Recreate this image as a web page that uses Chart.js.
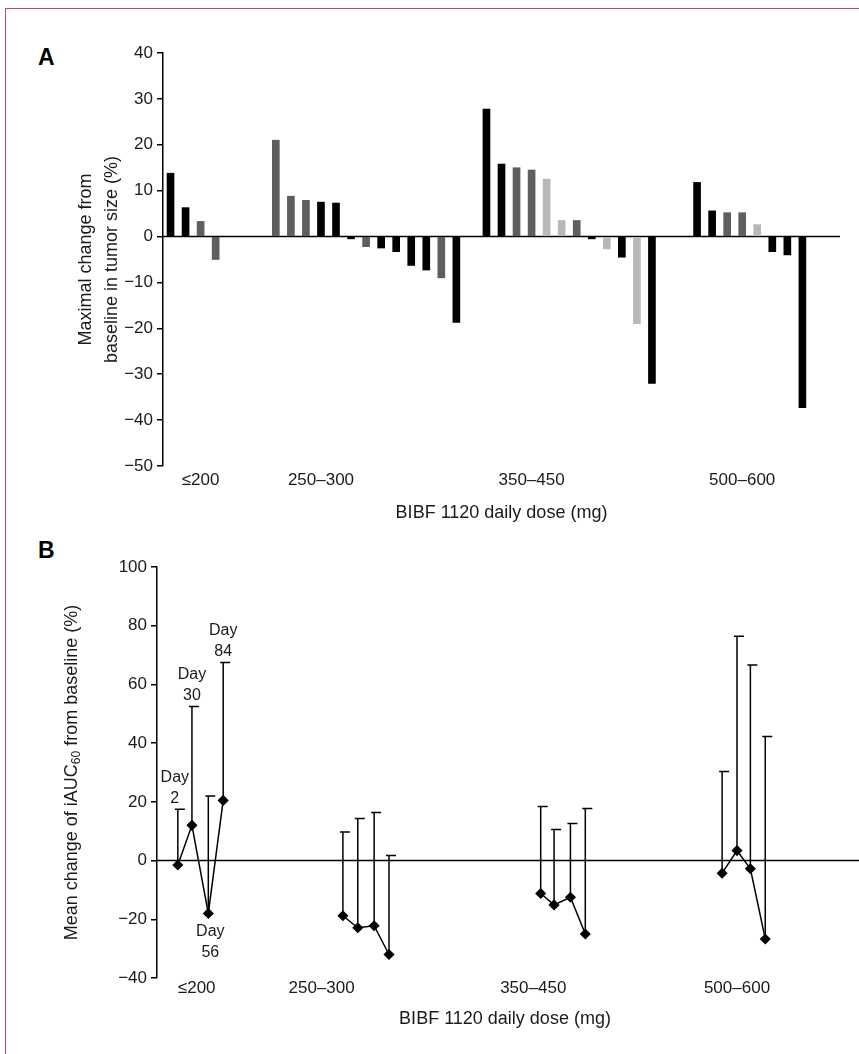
<!DOCTYPE html>
<html><head><meta charset="utf-8">
<script src="https://cdn.jsdelivr.net/npm/chart.js@4"></script>
<style>
html,body{margin:0;padding:0;background:#fff;width:859px;height:1054px;overflow:hidden;font-family:"Liberation Sans",Arial,sans-serif}
#frame{position:absolute;left:5px;top:8px;width:900px;height:1100px;border-left:1.5px solid #c2456f;border-top:1.5px solid #c2456f}
.lt{position:absolute;font-weight:bold;font-size:23px;color:#000}
#ca{position:absolute;left:0;top:0}
#cb{position:absolute;left:0;top:540px}
</style></head><body>
<div id="frame"></div>
<div class="lt" style="left:38px;top:44px">A</div>
<div class="lt" style="left:38px;top:537px">B</div>
<canvas id="ca" width="859" height="540"></canvas>
<canvas id="cb" width="859" height="514"></canvas>
<script>
// ---------- Panel A data ----------
const doseGroups = ["≤200","250–300","350–450","500–600"];
const groupLabelSlotsA = [2,10,24,38];
const tumorChange = [13.8,6.3,3.3,-5,null,null,null,
  21,8.8,7.9,7.5,7.3,-0.5,-2.2,-2.5,-3.3,-6.3,-7.3,-9,-18.7,null,
  27.8,15.8,15,14.5,12.5,3.5,3.5,-0.5,-2.7,-4.5,-19,-32,null,null,
  11.8,5.6,5.2,5.2,2.6,-3.3,-4,-37.3,null,null];
const barShade = ["k","k","d","d","","","",
  "d","d","d","k","k","k","d","k","k","k","k","d","k","",
  "k","k","d","d","l","l","d","k","l","k","l","k","","",
  "k","k","d","d","l","k","k","k","",""];
// ---------- Panel B data ----------
const dayNames = ["Day 2","Day 30","Day 56","Day 84"];
const slotsB = [[1.4,2.35,3.45,4.45],[12.5,13.5,14.6,15.6],[25.8,26.7,27.8,28.8],[38,39,39.9,40.9]];
const groupLabelSlotsB = [2.67,11.07,25.3,39];
const meanIAUC = [[-1.5,12,-18,20.5],[-18.8,-22.9,-22.2,-32],[-11.2,-15.1,-12.5,-25],[-4.3,3.4,-2.8,-26.7]];
const upperIAUC = [[17.5,52.5,22,67.5],[9.7,14.3,16.4,1.7],[18.4,10.6,12.6,17.7],[30.3,76.4,66.6,42.3]];
const yTicksA = [40,30,20,10,0,-10,-20,-30,-40,-50];
const yTicksB = [100,80,60,40,20,0,-20,-40];

const shadeCol = {k:"#000000",d:"#5e5e5e",l:"#b8b8b8","":"#000"};
const FONT = "'Liberation Sans', Arial, sans-serif";
Chart.defaults.font.family = FONT;
Chart.defaults.color = "#1a1a1a";

const minus = v => (v<0 ? "\u2212"+Math.abs(v) : String(v));
const zeroLine = {id:"zeroLine",beforeDatasetsDraw(c,a,o){
  const y=c.scales.y.getPixelForValue(0),ctx=c.ctx;
  ctx.save();ctx.strokeStyle="#000";ctx.lineWidth=1.5;ctx.beginPath();
  ctx.moveTo(c.chartArea.left,y);ctx.lineTo(o.right||c.chartArea.right,y);ctx.stroke();ctx.restore();}};
const yTitleA = {id:"yTitleA",afterDraw(c){
  const ctx=c.ctx,cy=(c.chartArea.top+c.chartArea.bottom)/2;
  ctx.save();ctx.translate(0,cy);ctx.rotate(-Math.PI/2);ctx.fillStyle="#1a1a1a";
  ctx.font="18px "+FONT;ctx.textAlign="center";ctx.textBaseline="middle";
  ctx.fillText("Maximal change from",0,86);ctx.fillText("baseline in tumor size (%)",0,112);ctx.restore();}};

const labelsA = tumorChange.map((_,i)=>i);
new Chart(document.getElementById("ca"),{
  type:"bar",
  data:{labels:labelsA,datasets:[{data:tumorChange,
    backgroundColor:barShade.map(s=>shadeCol[s]),barThickness:7}]},
  options:{responsive:false,animation:false,
    layout:{padding:{top:53,right:19,bottom:12,left:0}},
    plugins:{legend:{display:false},tooltip:{enabled:false},zeroLine:{}},
    scales:{
      x:{grid:{display:false},border:{display:false},afterFit:s=>{s.height=62;},
        ticks:{autoSkip:false,maxRotation:0,font:{size:17},padding:-4,
          callback:(v,i)=>{const k=groupLabelSlotsA.indexOf(i);return k>=0?doseGroups[k]:"";}},
        title:{display:true,text:"BIBF 1120 daily dose (mg)",font:{size:18},padding:{top:8,bottom:4}}},
      y:{min:-50,max:40,afterBuildTicks:s=>{s.ticks=yTicksA.map(v=>({value:v}));},
        afterFit:s=>{s.width=163;},
        grid:{drawOnChartArea:false,tickLength:6,color:"#000",lineWidth:1.5},
        border:{color:"#000",width:1.5},
        ticks:{font:{size:17},padding:4,callback:v=>minus(v)}}
    }},
  plugins:[zeroLine,yTitleA]
});

// ---------- Panel B ----------
const errBars = {id:"errBars",afterDatasetsDraw(c){
  const ctx=c.ctx,xs=c.scales.x,ys=c.scales.y;ctx.save();ctx.strokeStyle="#000";ctx.lineWidth=1.5;
  slotsB.forEach((g,gi)=>g.forEach((sx,j)=>{
    const x=xs.getPixelForValue(sx),y0=ys.getPixelForValue(meanIAUC[gi][j]),y1=ys.getPixelForValue(upperIAUC[gi][j]);
    ctx.beginPath();ctx.moveTo(x,y0);ctx.lineTo(x,y1);ctx.moveTo(x-3,y1);ctx.lineTo(x+7,y1);ctx.stroke();}));
  ctx.fillStyle="#1a1a1a";ctx.font="16px "+FONT;ctx.textAlign="center";
  slotsB[0].forEach((sx,j)=>{
    const parts=dayNames[j].split(" ");let x=xs.getPixelForValue(sx);
    if(j===2){const y=ys.getPixelForValue(meanIAUC[0][j]);x+=2;
      ctx.textBaseline="top";ctx.fillText(parts[0],x,y+10);ctx.fillText(parts[1],x,y+31);}
    else{const y=ys.getPixelForValue(upperIAUC[0][j]);x-=(j===0?3:0);
      ctx.textBaseline="bottom";ctx.fillText(parts[0],x,y-24);ctx.fillText(parts[1],x,y-3);}
  });
  const cx=72,cy=(c.chartArea.top+c.chartArea.bottom)/2;
  ctx.translate(cx,cy);ctx.rotate(-Math.PI/2);ctx.textBaseline="middle";ctx.textAlign="left";
  const big="18px "+FONT,small="12px "+FONT;
  const t1="Mean change of iAUC",t2="60",t3=" from baseline (%)";
  ctx.font=big;const w1=ctx.measureText(t1).width,w3=ctx.measureText(t3).width;
  ctx.font=small;const w2=ctx.measureText(t2).width;
  let x0=-(w1+w2+w3)/2;
  ctx.font=big;ctx.fillText(t1,x0,0);ctx.font=small;ctx.fillText(t2,x0+w1,5);
  ctx.font=big;ctx.fillText(t3,x0+w1+w2,0);
  ctx.restore();}};

new Chart(document.getElementById("cb"),{
  type:"line",
  data:{datasets:slotsB.map((g,gi)=>({data:g.map((sx,j)=>({x:sx,y:meanIAUC[gi][j]})),
    borderColor:"#000",borderWidth:1.5,pointStyle:"rectRot",pointRadius:4.5,
    pointBackgroundColor:"#000",pointBorderColor:"#000",tension:0}))},
  options:{responsive:false,animation:false,
    layout:{padding:{top:27,right:0,bottom:20,left:0}},
    plugins:{legend:{display:false},tooltip:{enabled:false},zeroLine:{right:859}},
    scales:{
      x:{type:"linear",min:0,max:46.8,grid:{display:false},border:{display:false},
        afterBuildTicks:s=>{s.ticks=groupLabelSlotsB.map(v=>({value:v}));},
        afterFit:s=>{s.height=56;},
        ticks:{font:{size:17},padding:-8,maxRotation:0,
          callback:v=>{const k=groupLabelSlotsB.findIndex(t=>Math.abs(t-v)<1e-6);return k>=0?doseGroups[k]:"";}},
        title:{display:true,text:"BIBF 1120 daily dose (mg)",font:{size:18},padding:{top:6,bottom:4}}},
      y:{min:-40,max:100,afterBuildTicks:s=>{s.ticks=yTicksB.map(v=>({value:v}));},
        afterFit:s=>{s.width=157;},
        grid:{drawOnChartArea:false,tickLength:6,color:"#000",lineWidth:1.5},
        border:{color:"#000",width:1.5},
        ticks:{font:{size:17},padding:4,callback:v=>minus(v)}}
    }},
  plugins:[zeroLine,errBars]
});
</script></body></html>
